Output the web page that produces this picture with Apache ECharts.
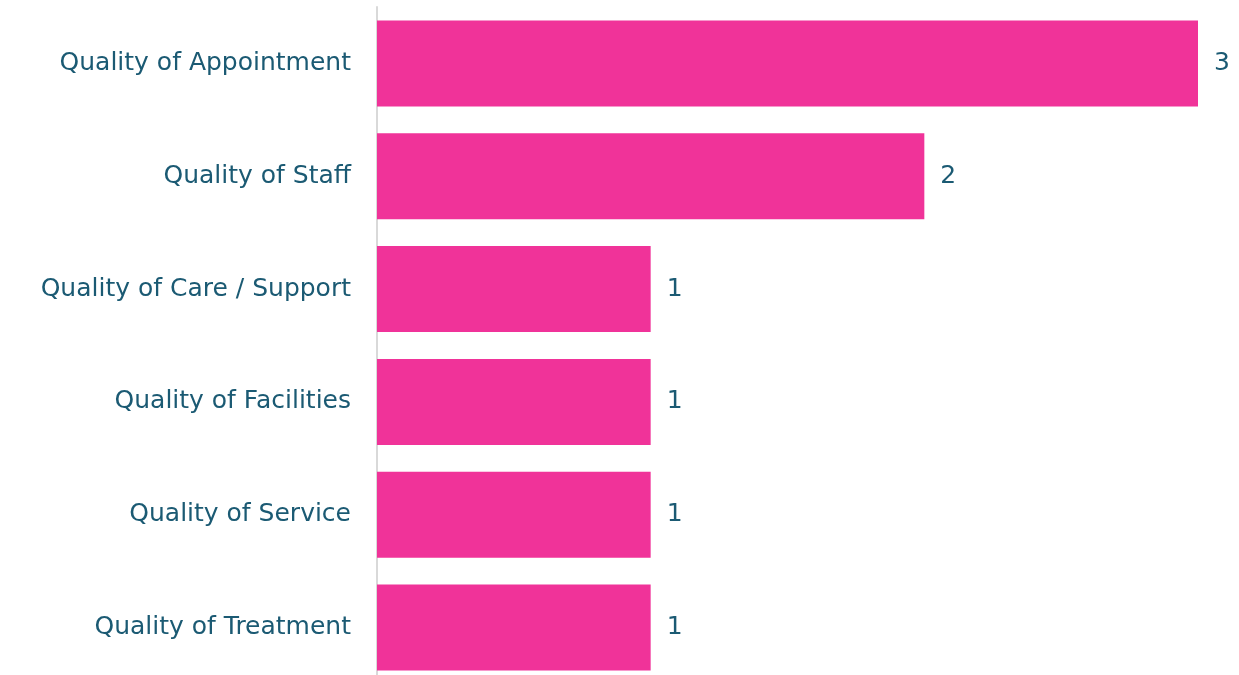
<!DOCTYPE html>
<html>
<head>
<meta charset="utf-8">
<style>
  html, body { margin: 0; padding: 0; background: #ffffff; overflow: hidden; }
  /* the plot area runs a few pixels past the bottom of the window */
  #chart { width: 1239px; height: 684px; }
</style>
<script src="https://cdn.jsdelivr.net/npm/echarts@6/dist/echarts.min.js"></script>
</head>
<body>
<div id="chart"></div>
<script>
// Feedback themes, listed top to bottom
const categories = [
  'Quality of Appointment',
  'Quality of Staff',
  'Quality of Care / Support',
  'Quality of Facilities',
  'Quality of Service',
  'Quality of Treatment'
];
// Number of comments per theme
const counts = [3, 2, 1, 1, 1, 1];

const textColor = '#1B5A73';
const barColor = '#F03399';
const fontFamily = '"DejaVu Sans", "Noto Sans", sans-serif';

const chart = echarts.init(document.getElementById('chart'), null, { renderer: 'canvas' });
chart.setOption({
  animation: false,
  backgroundColor: '#ffffff',
  grid: { left: 377, right: 41, top: 7, bottom: 0, containLabel: false },
  xAxis: {
    type: 'value',
    min: 0,
    max: 3,
    show: false
  },
  yAxis: {
    type: 'category',
    data: categories,
    inverse: true,
    axisLine: { show: true, lineStyle: { color: '#d9d9d9', width: 2 } },
    axisTick: { show: false },
    axisLabel: {
      color: textColor,
      fontFamily: fontFamily,
      fontSize: 25,
      margin: 26
    }
  },
  series: [{
    type: 'bar',
    data: counts,
    barWidth: 86,
    itemStyle: { color: barColor },
    label: {
      show: true,
      position: 'right',
      distance: 16,
      color: textColor,
      fontFamily: fontFamily,
      fontSize: 25
    }
  }]
});
</script>
</body>
</html>
